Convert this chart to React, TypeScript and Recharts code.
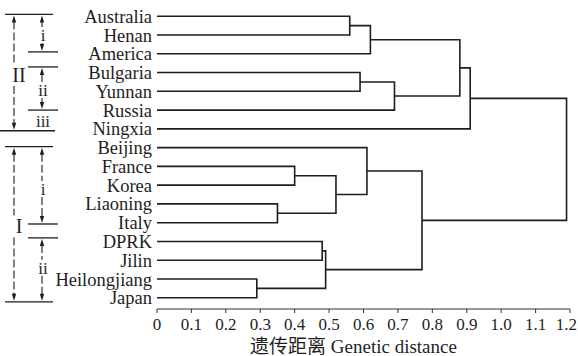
import React from 'react';
import { ScatterChart, Scatter, XAxis, YAxis } from 'recharts';

// leaves, top to bottom
const LEAVES = [
  'Australia', 'Henan', 'America', 'Bulgaria', 'Yunnan', 'Russia', 'Ningxia',
  'Beijing', 'France', 'Korea', 'Liaoning', 'Italy', 'DPRK', 'Jilin', 'Heilongjiang', 'Japan',
];

// linkage: node ids 0-15 are leaves, merge k becomes node 16 + k
const MERGE_LEFT = [0, 16, 3, 18, 17, 20, 8, 10, 22, 7, 12, 14, 26, 25, 21];
const MERGE_RIGHT = [1, 2, 4, 5, 19, 6, 9, 11, 23, 24, 13, 15, 27, 28, 29];
const MERGE_HEIGHT = [0.56, 0.62, 0.59, 0.69, 0.88, 0.91, 0.4, 0.35, 0.52, 0.61, 0.48, 0.29, 0.49, 0.77, 1.19];

const X_TICKS = [0, 0.1, 0.2, 0.3, 0.4, 0.5, 0.6, 0.7, 0.8, 0.9, 1.0, 1.1, 1.2];
const Y_TICKS = LEAVES.map((_, i) => i);

// left-side cluster annotations, in leaf-row units
const GROUP_LABELS = ['II', 'I'];
const GROUP_FROM = [-0.1, 6.95];
const GROUP_TO = [6.1, 15.22];
const GROUP_MID = [3.13, 11.2];
const SUB_LABELS = ['i', 'ii', 'iii', 'i', 'ii'];
const SUB_FROM = [-0.1, 2.7, 5.0, 6.95, 11.81];
const SUB_TO = [1.9, 5.0, 6.1, 11.07, 15.22];
const SUB_MID = [1.0, 3.93, 5.58, 9.2, 13.4];
const SUB_LINES = [1.9, 2.7, 5.0, 11.07, 11.81];

const W = 578;
const H = 356;
const TOP = 5;
const AXIS_H = 47;
const Y_MIN = -0.6;
const Y_MAX = 15.6;
const PLOT_H = H - TOP - AXIS_H;
const INK = '#1e1e1e';
const FONT = "'Liberation Serif', 'Noto Sans CJK SC', serif";

const rowY = (r: number) => TOP + ((r - Y_MIN) / (Y_MAX - Y_MIN)) * PLOT_H;

// build one bracket (4 points) per merge
const nodeY: number[] = LEAVES.map((_, i) => i);
const nodeH: number[] = LEAVES.map(() => 0);
const BRACKETS = MERGE_HEIGHT.map((h, k) => {
  const a = MERGE_LEFT[k];
  const b = MERGE_RIGHT[k];
  nodeY.push((nodeY[a] + nodeY[b]) / 2);
  nodeH.push(h);
  return [
    { x: nodeH[a], y: nodeY[a] },
    { x: h, y: nodeY[a] },
    { x: h, y: nodeY[b] },
    { x: nodeH[b], y: nodeY[b] },
  ];
});

function XTick({ x, y, payload }: any) {
  const v = payload.value as number;
  const last = v === X_TICKS[X_TICKS.length - 1];
  return (
    <text
      x={last ? W - 1 : x}
      y={y}
      dy="0.71em"
      textAnchor={last ? 'end' : 'middle'}
      fill={INK}
      fontSize={17}
      fontFamily={FONT}
    >
      {v === 0 ? '0' : v.toFixed(1)}
    </text>
  );
}

function Arrow({ x, y1, y2, mid, gap }: { x: number; y1: number; y2: number; mid: number; gap: number }) {
  const head = 7;
  const hw = 2.2;
  return (
    <g>
      <line x1={x} x2={x} y1={y1 + head} y2={mid - gap} stroke={INK} strokeWidth={1.1} strokeDasharray="8 3" />
      <line x1={x} x2={x} y1={mid + gap} y2={y2 - head} stroke={INK} strokeWidth={1.1} strokeDasharray="8 3" />
      <path d={`M${x},${y1 + 1} L${x - hw},${y1 + head + 1} L${x + hw},${y1 + head + 1} Z`} fill={INK} />
      <path d={`M${x},${y2 - 1} L${x - hw},${y2 - head - 1} L${x + hw},${y2 - head - 1} Z`} fill={INK} />
    </g>
  );
}

function Annotations() {
  return (
    <svg width={W} height={H} style={{ position: 'absolute', left: 0, top: 0, pointerEvents: 'none' }}>
      {GROUP_LABELS.map((lab, g) => (
        <g key={'g' + g}>
          <line x1={5} x2={53} y1={rowY(GROUP_FROM[g])} y2={rowY(GROUP_FROM[g])} stroke={INK} strokeWidth={1.3} />
          <line x1={g === 0 ? 0 : 5} x2={g === 0 ? 55 : 53} y1={rowY(GROUP_TO[g])} y2={rowY(GROUP_TO[g])} stroke={INK} strokeWidth={1.3} />
          <Arrow x={14} y1={rowY(GROUP_FROM[g])} y2={rowY(GROUP_TO[g])} mid={rowY(GROUP_MID[g])} gap={11} />
          <text x={19} y={rowY(GROUP_MID[g])} dy="0.35em" textAnchor="middle" fontFamily={FONT} fontSize={20} fill={INK}>
            {lab}
          </text>
        </g>
      ))}
      {SUB_LINES.map((r, i) => (
        <line key={'l' + i} x1={28} x2={58} y1={rowY(r)} y2={rowY(r)} stroke={INK} strokeWidth={1.3} />
      ))}
      {SUB_LABELS.map((lab, s) => (
        <g key={'s' + s}>
          {lab !== 'iii' && (
            <Arrow x={42} y1={rowY(SUB_FROM[s])} y2={rowY(SUB_TO[s])} mid={rowY(SUB_MID[s])} gap={8} />
          )}
          <text x={43} y={rowY(SUB_MID[s])} dy="0.35em" textAnchor="middle" fontFamily={FONT} fontSize={17} fill={INK}>
            {lab}
          </text>
        </g>
      ))}
    </svg>
  );
}

export default function App() {
  return (
    <div style={{ position: 'absolute', left: 0, top: 0, width: W, height: H, background: '#fff' }}>
      <ScatterChart width={W} height={H} margin={{ top: TOP, right: 8, left: 0, bottom: 0 }}>
        <XAxis
          type="number"
          dataKey="x"
          domain={[0, 1.2]}
          ticks={X_TICKS}
          interval={0}
          allowDataOverflow
          height={AXIS_H}
          tickSize={4}
          tickMargin={5}
          stroke="#333"
          tick={<XTick />}
          label={{
            value: '遗传距离 Genetic distance',
            position: 'insideBottom',
            offset: 3,
            dx: -10,
            style: { fill: INK, fontSize: 19, fontFamily: FONT },
          }}
        />
        <YAxis
          type="number"
          dataKey="y"
          domain={[Y_MIN, Y_MAX]}
          reversed
          allowDataOverflow
          ticks={Y_TICKS}
          interval={0}
          width={157}
          axisLine={false}
          tickLine={false}
          tickSize={0}
          tickMargin={5}
          tick={{ fill: INK, fontSize: 18.5, fontFamily: FONT }}
          tickFormatter={(i: number) => LEAVES[i] ?? ''}
        />
        {BRACKETS.map((pts, k) => (
          <Scatter
            key={k}
            data={pts}
            line={{ stroke: INK, strokeWidth: 1.6 }}
            lineType="joint"
            shape={() => <g />}
            isAnimationActive={false}
          />
        ))}
      </ScatterChart>
      <Annotations />
    </div>
  );
}
